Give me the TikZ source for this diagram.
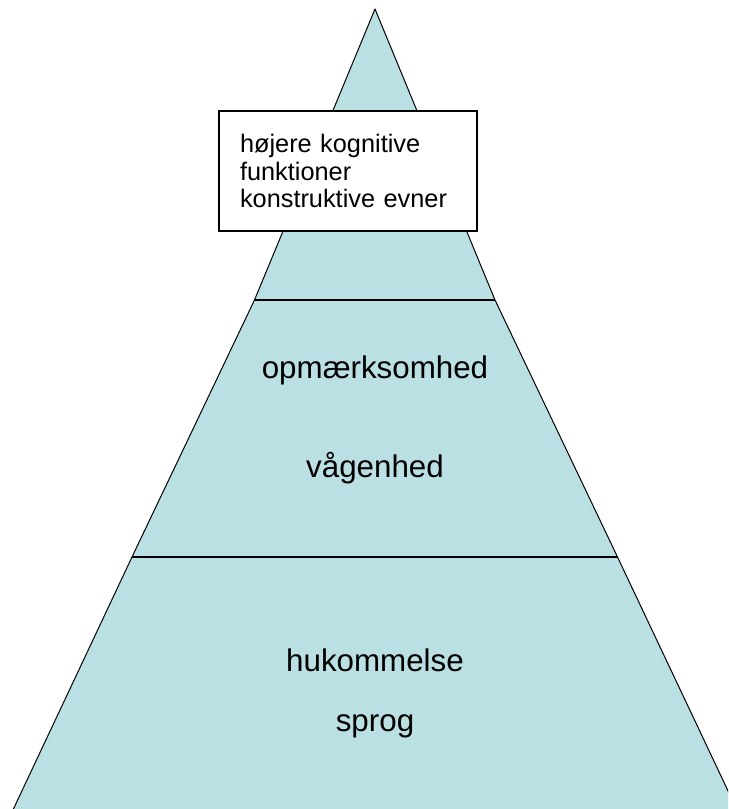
\documentclass[tikz,border=0pt]{standalone}
\usepackage{fontspec}
\setmainfont{Liberation Sans}
\definecolor{pyramidfill}{RGB}{187,224,227}

\tikzset{
    tier/.style    = {font=\fontsize{23.5pt}{26pt}\selectfont, anchor=base},
    infobox/.style = {draw=black, line width=1.5pt, fill=white, anchor=north west,
                      align=left, inner xsep=21*0.75pt, inner ysep=0pt,
                      minimum width=258*0.75pt, minimum height=120*0.75pt,
                      text width=216*0.75pt,
                      font=\fontsize{19pt}{20.5pt}\selectfont}
}

\begin{document}
\begin{tikzpicture}[x=0.75pt,y=-0.75pt]
    \useasboundingbox (0,0) rectangle (728,809);
    \clip (0,0) rectangle (728,809);

    \begin{scope}[line join=round]
        % pyramid body
        \fill [pyramidfill] (375,9) -- (254.5,300) -- (132,557) -- (12,812)
            -- (738,812) -- (617.5,557) -- (495,300) -- cycle;
        \draw [line width=0.75pt] (12,812) -- (132,557) -- (254.5,300) -- (375,9)
            -- (495,300) -- (617.5,557) -- (738,812);

        % tiers
        \draw [line width=1.5pt] (254.5,300) -- (495,300);
        \draw [line width=1.5pt] (132,557)   -- (617.5,557);
    \end{scope}

    \node [tier] (opm)  at (375,378) {opmærksomhed};
    \node [tier] (vaag) at (375,477) {vågenhed};
    \node [tier] (huk)  at (375,671) {hukommelse};
    \node [tier] (spr)  at (375,731) {sprog};

    \node [infobox] (top) at (218,110)
        {højere kognitive\\funktioner\\konstruktive evner};

\end{tikzpicture}
\end{document}
